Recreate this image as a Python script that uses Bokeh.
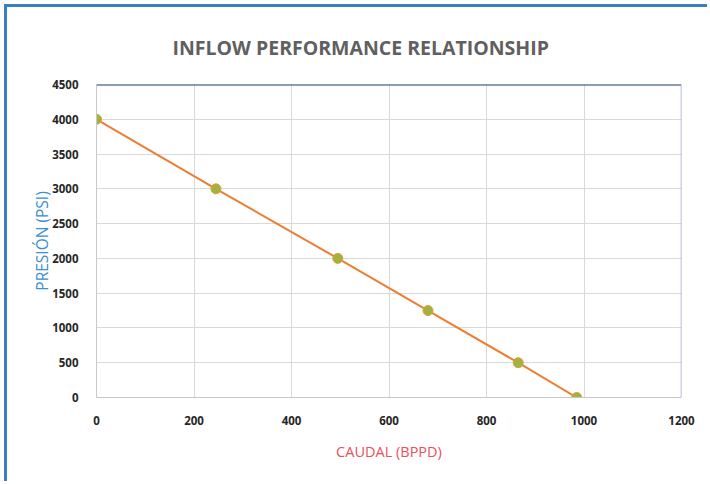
from bokeh.plotting import figure
from bokeh.models import Span, Range1d, SingleIntervalTicker
from bokeh.embed import file_html
from bokeh.resources import INLINE

# Inflow performance relationship: flow rate vs. pressure
caudal_bppd = [0, 245, 495, 680, 865, 985]
presion_psi = [4000, 3000, 2000, 1250, 500, 0]

x_max = 1200
y_max = 4500

p = figure(
    width=703, height=477,
    output_backend="svg", toolbar_location=None,
    x_range=Range1d(0, x_max), y_range=Range1d(0, y_max),
    min_border_left=89, min_border_right=29,
    min_border_top=76, min_border_bottom=87,
    title="INFLOW PERFORMANCE RELATIONSHIP",
    styles={"margin-left": "4px", "margin-top": "4px",
            "border-left": "3px solid #3a7fc4", "border-top": "3px solid #3a7fc4"},
)

p.background_fill_color = "white"
p.border_fill_color = "white"
p.outline_line_color = None

p.title.align = "left"
p.title.offset = 76
p.title.text_font = "Open Sans"
p.title.text_font_size = "19.5px"
p.title.text_font_style = "bold"
p.title.text_color = "#606060"
p.title.standoff = 48

p.xaxis.ticker = SingleIntervalTicker(interval=200)
p.yaxis.ticker = SingleIntervalTicker(interval=500)
for ax in (p.xaxis, p.yaxis):
    ax.major_tick_line_color = None
    ax.minor_tick_line_color = None
    ax.axis_line_color = "#c8c8c8"
    ax.major_label_text_font = "Open Sans"
    ax.major_label_text_font_size = "11.5px"
    ax.major_label_text_font_style = "bold"
    ax.major_label_text_color = "#262626"
    ax.axis_label_text_font = "Open Sans"
    ax.axis_label_text_font_style = "normal"

p.xaxis.axis_label = "CAUDAL (BPPD)"
p.xaxis.axis_label_text_color = "#e8505b"
p.xaxis.axis_label_text_font_size = "14.5px"
p.xaxis.major_label_standoff = 12
p.xaxis.axis_label_standoff = 14

p.yaxis.axis_label = "PRESIÓN (PSI)"
p.yaxis.axis_label_text_color = "#3a8ed4"
p.yaxis.axis_label_text_font_size = "15.5px"
p.yaxis.major_label_standoff = 12
p.yaxis.axis_label_standoff = -4

p.xgrid.grid_line_color = "#d9d9d9"
p.ygrid.grid_line_color = "#d9d9d9"

# frame edges on the top and right
p.add_layout(Span(location=y_max, dimension="width", line_color="#1f3a64", line_width=2))
p.add_layout(Span(location=x_max, dimension="height", line_color="#a3a3d4", line_width=1.5))

p.line(caudal_bppd, presion_psi, line_color="#ed7d31", line_width=2)
p.scatter(caudal_bppd, presion_psi, size=10, fill_color="#a3b23c",
          line_color="#d8a040", line_width=1)

open("out.html", "w").write(file_html(p, INLINE))
